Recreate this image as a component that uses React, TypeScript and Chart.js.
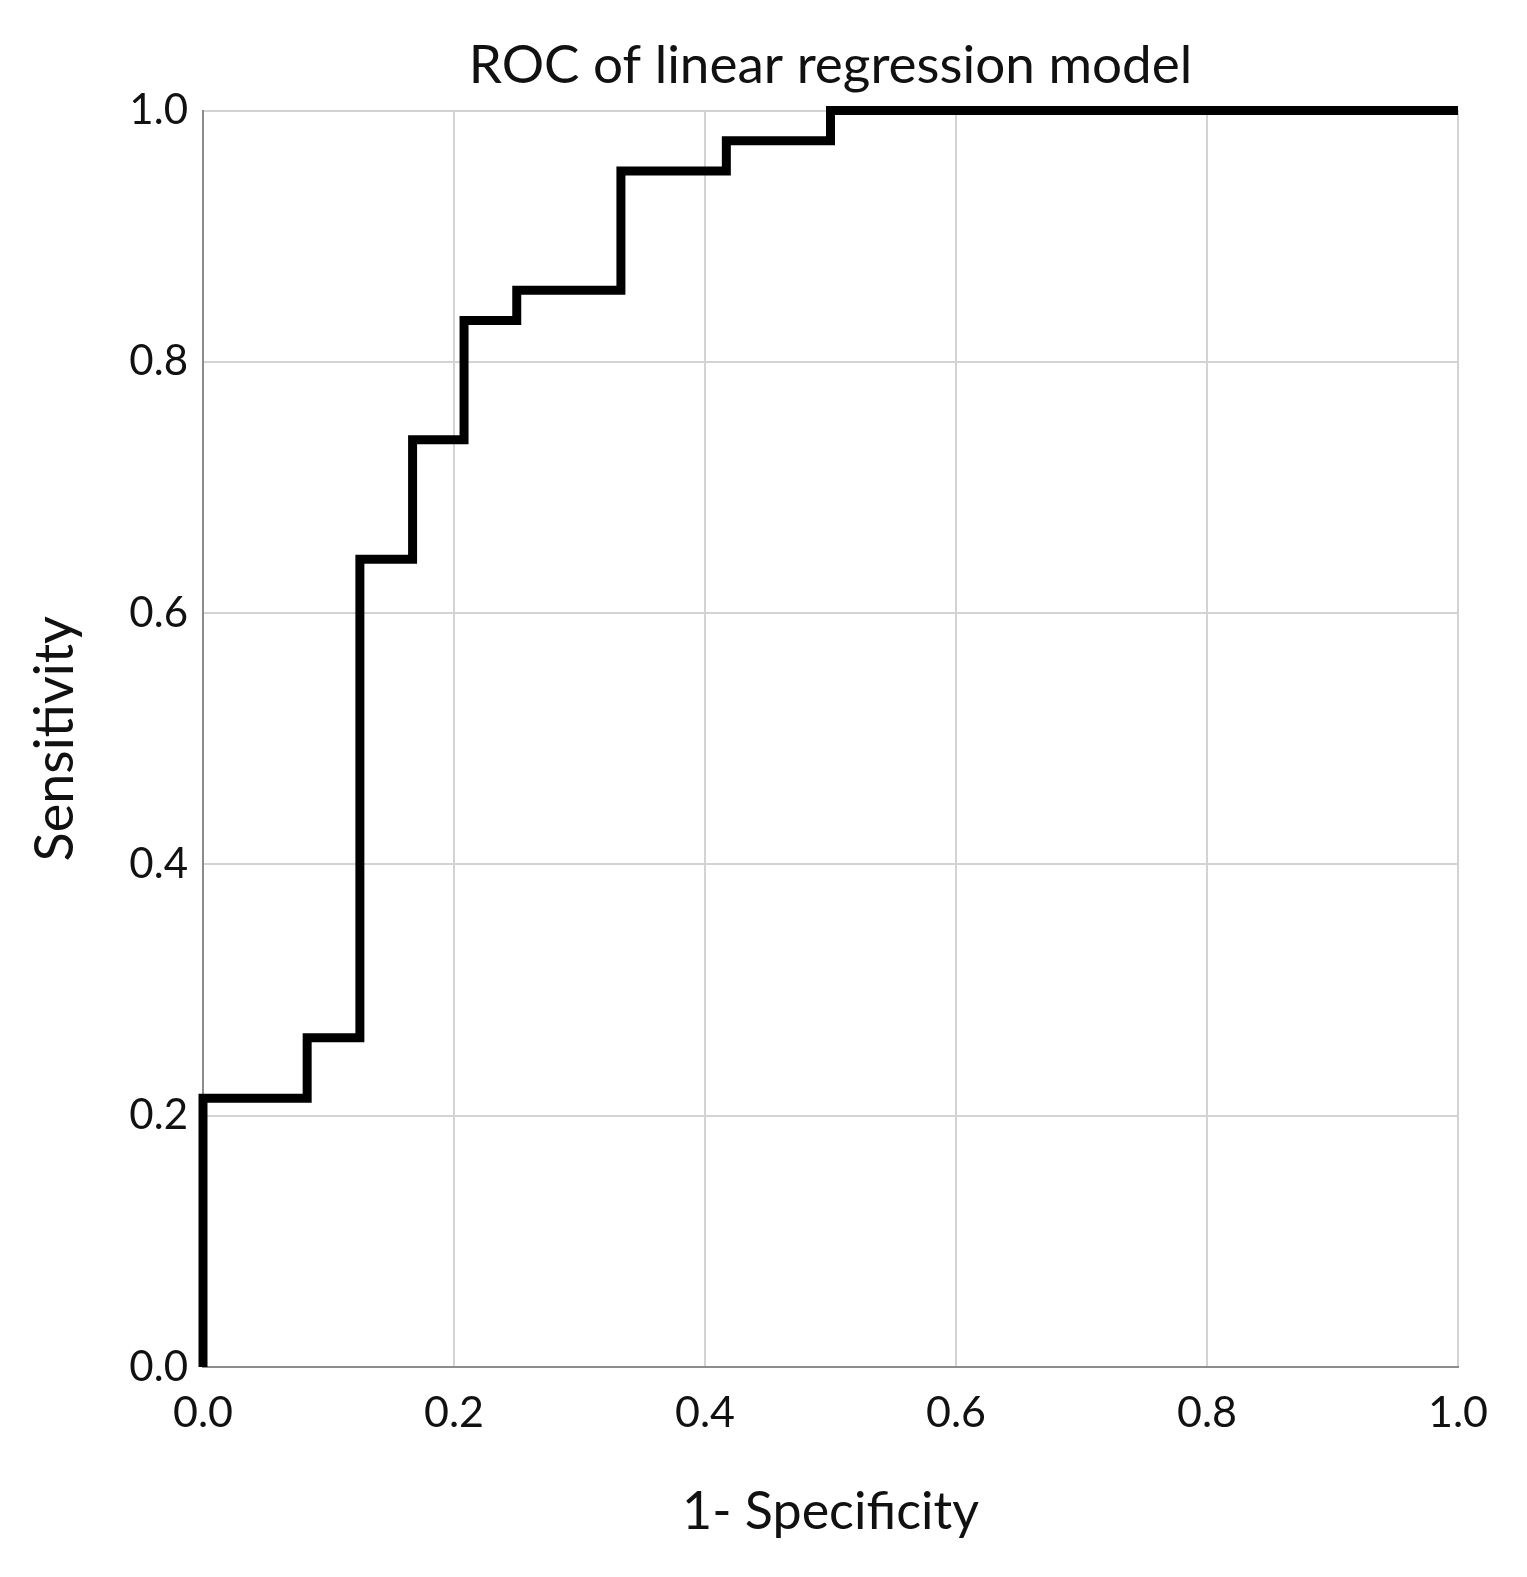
import React, { useEffect, useRef } from 'react';
import { Chart, registerables } from 'chart.js';

Chart.register(...registerables);

// ROC curve: false-positive rate (1 - specificity) at each step, and sensitivity level reached
const fprSteps = [0, 0.083, 0.125, 0.167, 0.208, 0.25, 0.333, 0.417, 0.5, 1.0];
const tprLevels = [0.214, 0.262, 0.643, 0.738, 0.833, 0.857, 0.952, 0.976, 1.0];
const tickValues = [0, 0.2, 0.4, 0.6, 0.8, 1.0];
const chartTitle = 'ROC of linear regression model';
const xTitle = '1- Specificity';
const yTitle = 'Sensitivity';

const FONT = 'Lato, "Open Sans", sans-serif';

export default function App() {
  const ref = useRef<HTMLCanvasElement | null>(null);

  useEffect(() => {
    document.body.style.margin = '0';
    const canvas = ref.current;
    if (!canvas) return;

    const points: { x: number; y: number }[] = [{ x: fprSteps[0], y: 0 }];
    for (let i = 0; i < tprLevels.length; i++) {
      points.push({ x: fprSteps[i], y: tprLevels[i] });
      points.push({ x: fprSteps[i + 1], y: tprLevels[i] });
    }

    const setTicks = (scale: any) => {
      scale.ticks = tickValues.map((v) => ({ value: v }));
    };

    const chart = new Chart(canvas, {
      type: 'scatter',
      data: {
        datasets: [
          {
            data: points,
            showLine: true,
            borderColor: '#000',
            borderWidth: 9,
            borderJoinStyle: 'miter',
            borderCapStyle: 'butt',
            pointRadius: 0,
            pointHoverRadius: 0,
            fill: false,
            clip: 20,
          } as any,
        ],
      },
      options: {
        responsive: false,
        animation: false,
        events: [],
        layout: { padding: { top: 0, left: 0, right: 69, bottom: 0 } },
        plugins: {
          legend: { display: false },
          tooltip: { enabled: false },
          title: {
            display: true,
            fullSize: false,
            text: chartTitle,
            color: '#111',
            font: { family: FONT, size: 53, weight: 'normal', lineHeight: 1.2 },
            padding: { top: 34, bottom: 13 },
          },
        },
        scales: {
          x: {
            type: 'linear',
            min: 0,
            max: 1,
            afterBuildTicks: setTicks,
            afterFit: (scale: any) => {
              scale.height = 210;
            },
            grid: { color: '#d3d3d3', lineWidth: 2, drawTicks: false },
            border: { color: '#8c8c8c', width: 2 },
            ticks: {
              color: '#111',
              padding: 20,
              maxRotation: 0,
              font: { family: FONT, size: 43 },
              callback: (v: any) => Number(v).toFixed(1),
            },
            title: {
              display: true,
              text: xTitle,
              color: '#111',
              font: { family: FONT, size: 52, lineHeight: 1.2 },
              padding: { top: 0, bottom: 34 },
            },
          },
          y: {
            type: 'linear',
            min: 0,
            max: 1,
            afterBuildTicks: setTicks,
            afterFit: (scale: any) => {
              scale.width = 203;
            },
            grid: { color: '#d3d3d3', lineWidth: 2, drawTicks: false },
            border: { color: '#8c8c8c', width: 2 },
            ticks: {
              color: '#111',
              padding: 15,
              font: { family: FONT, size: 42 },
              callback: (v: any) => Number(v).toFixed(1),
            },
            title: {
              display: true,
              text: yTitle,
              color: '#111',
              font: { family: FONT, size: 54, lineHeight: 1.2 },
              padding: { top: 23, bottom: 0 },
            },
          },
        },
      },
    });

    return () => chart.destroy();
  }, []);

  return (
    <div style={{ width: 1527, height: 1577 }}>
      <canvas ref={ref} width={1527} height={1577} style={{ display: 'block' }} />
    </div>
  );
}
